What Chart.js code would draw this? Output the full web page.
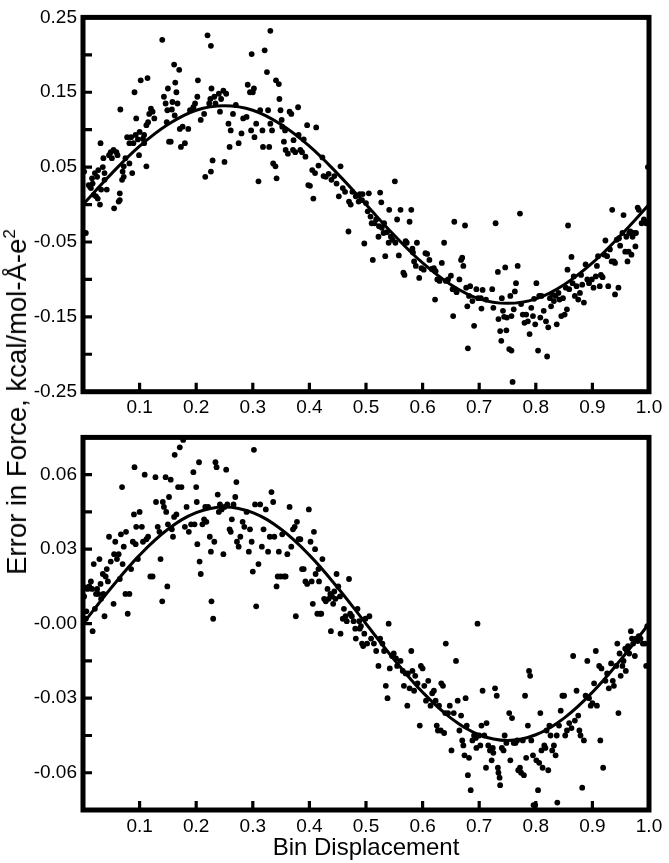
<!DOCTYPE html>
<html>
<head>
<meta charset="utf-8">
<script src="https://cdn.jsdelivr.net/npm/chart.js@4.4.1/dist/chart.umd.min.js"></script>
<style>
  body { margin: 0; background: #fff; }
  #wrap { position: relative; width: 669px; height: 863px; background: #fff; }
  canvas { position: absolute; left: 0; }
  #topChart { top: 0; }
  #botChart { top: 420px; }
  #ytitle {
    position: absolute; left: 17px; top: 402px;
    transform: translate(-50%, -50%) rotate(-90deg);
    white-space: nowrap; font-family: "Liberation Sans", Arial, sans-serif;
    font-size: 27.5px; color: #000;
  }
  #ytitle sup { font-size: 17px; vertical-align: 11px; line-height: 0; }
</style>
</head>
<body>
<div id="wrap">
  <canvas id="topChart" width="669" height="420"></canvas>
  <canvas id="botChart" width="669" height="443"></canvas>
  <div id="ytitle">Error in Force, kcal/mol-&#197;-e<sup>2</sup></div>
</div>
<script>
// x ticks shared by both panels
var xTicks = [0, 0.1, 0.2, 0.3, 0.4, 0.5, 0.6, 0.7, 0.8, 0.9, 1.0];
var xTickLabels = ['', '0.1', '0.2', '0.3', '0.4', '0.5', '0.6', '0.7', '0.8', '0.9', '1.0'];

var topYTicks = [-0.25, -0.20, -0.15, -0.10, -0.05, 0, 0.05, 0.10, 0.15, 0.20, 0.25];
var topYTickLabels = ['-0.25', '', '-0.15', '', '-0.05', '', '0.05', '', '0.15', '', '0.25'];

var botYTicks = [-0.075, -0.06, -0.045, -0.03, -0.015, 0, 0.015, 0.03, 0.045, 0.06, 0.075];
var botYTickLabels = ['', '-0.06', '', '-0.03', '', '-0.00', '', '0.03', '', '0.06', ''];

// fitted curves, every 0.05
var curveX = [0, 0.05, 0.10, 0.15, 0.20, 0.25, 0.30, 0.35, 0.40, 0.45, 0.50,
              0.55, 0.60, 0.65, 0.70, 0.75, 0.80, 0.85, 0.90, 0.95, 1.00];
var topCurveY = [0.000, 0.041, 0.078, 0.107, 0.126, 0.132, 0.126, 0.107, 0.078, 0.041, 0.000,
                 -0.041, -0.078, -0.107, -0.126, -0.132, -0.126, -0.107, -0.078, -0.041, 0.000];
var botCurveY = [0.000, 0.0145, 0.0276, 0.0380, 0.0447, 0.0470, 0.0447, 0.0380, 0.0276, 0.0145, 0.000,
                 -0.0145, -0.0276, -0.0380, -0.0447, -0.0470, -0.0447, -0.0380, -0.0276, -0.0145, 0.000];

// scatter points [x, y], top panel
var topPoints = [
[.002,.044],[.005,-.038],[.010,.026],[.014,.022],[.017,.028],[.021,.042],[.025,.037],[.023,.011],[.026,.008],[.030,.000],[.031,.082],[.032,.020],[.036,.062],[.038,.042],[.042,.020],[.046,.066],[.049,.070],[.038,.033],[.019,.013],[.012,.024],[.016,.035],[.035,.050],[.027,.046],
[.051,.062],[.054,.073],[.055,-.005],[.059,.070],[.063,.004],[.065,.015],[.066,.127],[.069,.033],[.070,.044],[.072,.037],[.075,.062],[.078,.090],[.082,.055],[.085,.090],[.087,.042],[.091,.150],[.093,.093],[.094,.115],[.097,.087],[.099,.066],[.065,.006],[.061,.066],[.072,.051],[.082,.082],[.089,.082],
[.102,.166],[.106,.088],[.108,.082],[.112,.051],[.114,.169],[.115,.110],[.117,.121],[.120,.128],[.123,.124],[.126,.115],[.140,.220],[.143,.144],[.146,.135],[.148,.110],[.150,.155],[.108,.093],[.100,.097],[.112,.106],[.152,.084],[.155,.084],
[.157,.127],[.161,.187],[.163,.163],[.165,.150],[.170,.180],[.167,.135],[.158,.137],[.171,.101],[.176,.104],[.180,.082],[.173,.077],[.186,.101],[.189,.126],[.195,.130],[.198,.135],[.162,.119],[.149,.126],
[.203,.166],[.202,.144],[.208,.113],[.214,.121],[.216,.037],[.220,.226],[.226,.212],[.223,.135],[.225,.141],[.227,.155],[.229,.059],[.226,.044],[.234,.135],[.232,.144],[.240,.148],[.244,.141],[.242,.124],[.250,.057],
[.248,.152],[.253,.148],[.257,.108],[.259,.077],[.261,.099],[.265,.121],[.270,.133],[.275,.082],[.280,.095],[.283,.115],[.289,.117],[.291,.160],[.295,.150],[.298,.201],[.300,.150],[.302,.155],[.297,.099],
[.303,.090],[.306,.108],[.310,.031],[.313,.126],[.317,.099],[.318,.077],[.321,.206],[.325,.177],[.327,.126],[.329,.077],[.331,.232],[.331,.108],[.334,.099],[.336,.055],[.340,.051],[.341,.166],[.342,.035],[.346,.161],[.347,.141],[.349,.126],[.351,.113],
[.352,.104],[.355,.084],[.357,.099],[.358,.073],[.362,.068],[.365,.124],[.368,.121],[.371,.073],[.372,.086],[.375,.070],[.380,.130],[.381,.093],[.384,.073],[.387,.070],[.390,.087],[.393,.064],[.396,.106],
[.398,.026],[.401,.025],[.405,.046],[.407,.008],[.410,.042],[.412,.103],[.416,.052],[.423,.063],[.425,.038],[.429,.037],[.434,.041],[.439,.033],[.444,.038],[.448,.028],[.452,.011],[.455,.051],
[.459,.022],[.463,.017],[.469,-.036],[.470,.004],[.473,.000],[.476,.017],[.482,.011],[.487,.004],[.489,.014],[.493,.006],[.494,.014],[.497,-.052],[.500,.002],[.503,-.009],[.505,.015],
[.508,-.016],[.510,-.025],[.512,-.074],[.515,-.025],[.518,-.020],[.522,-.043],[.523,-.029],[.525,.016],[.527,.003],[.528,-.031],[.531,-.038],[.532,-.025],[.534,-.069],[.537,-.037],[.540,-.051],[.541,-.007],[.544,-.043],[.547,-.047],[.551,.031],[.552,-.051],[.555,-.020],
[.558,-.068],[.561,-.007],[.566,-.091],[.568,-.094],[.570,-.049],[.572,-.051],[.577,-.023],[.580,-.007],[.582,-.059],[.583,-.064],[.585,-.076],[.588,-.082],[.590,-.051],[.594,-.098],[.598,-.085],[.602,-.087],[.605,-.065],
[.608,-.066],[.612,-.074],[.616,-.086],[.620,-.085],[.622,-.127],[.623,-.089],[.626,-.100],[.630,-.102],[.634,-.078],[.638,-.051],[.641,-.102],[.645,-.100],[.650,-.095],[.653,-.113],[.654,-.149],[.656,-.023],[.657,-.113],
[.660,-.117],[.665,-.100],[.668,-.074],[.670,-.071],[.672,-.082],[.675,-.028],[.677,-.111],[.679,-.136],[.680,-.192],[.682,-.122],[.684,-.109],[.688,-.129],[.691,-.162],[.695,-.113],[.698,-.125],[.703,-.125],[.704,-.139],
[.706,-.114],[.712,-.127],[.723,-.113],[.725,-.138],[.729,-.025],[.733,-.090],[.734,-.153],[.737,-.169],[.739,-.182],[.740,-.125],[.742,-.142],[.744,-.150],[.746,-.084],[.748,-.168],[.749,-.151],[.753,-.193],[.755,-.122],[.757,-.195],[.757,-.149],
[.759,-.237],[.761,-.140],[.763,-.116],[.765,-.105],[.768,-.082],[.772,-.012],[.774,-.133],[.777,-.147],[.780,-.158],[.783,-.147],[.786,-.156],[.789,-.173],[.792,-.138],[.795,-.149],[.797,-.126],[.799,-.160],[.801,-.105],[.804,-.195],[.806,-.122],[.808,-.151],
[.810,-.122],[.814,-.142],[.818,-.156],[.820,-.203],[.822,-.164],[.825,-.125],[.827,-.136],[.829,-.120],[.832,-.129],[.835,-.122],[.837,-.160],[.840,-.118],[.842,-.127],[.845,-.149],[.848,-.125],[.851,-.147],[.853,-.111],[.855,-.140],[.857,-.028],[.856,-.087],
[.859,-.113],[.863,-.070],[.865,-.105],[.867,-.096],[.869,-.122],[.872,-.109],[.875,-.127],[.878,-.118],[.880,-.094],[.882,-.107],[.885,-.131],[.888,-.080],[.891,-.100],[.894,-.105],[.899,-.100],[.902,-.111],[.906,-.096],[.908,-.082],
[.910,-.069],[.913,-.109],[.915,-.094],[.918,-.097],[.921,-.067],[.923,-.048],[.926,-.069],[.928,-.109],[.931,-.060],[.934,-.076],[.935,-.007],[.938,-.076],[.940,-.120],[.940,-.078],[.943,-.047],[.946,-.111],[.947,-.045],[.949,-.055],
[.953,-.038],[.955,-.014],[.958,-.063],[.960,-.043],[.962,-.076],[.964,-.063],[.965,-.038],[.967,-.036],[.969,-.067],[.971,-.043],[.973,-.038],[.976,-.056],[.977,-.038],[.980,-.004],[.982,-.007],[.987,-.025],[.991,-.020],[.995,-.025],[.998,.050],[.999,-.023]
];

// scatter points [x, y], bottom panel
var botPoints = [
[.002,.011],[.005,.002],[.006,.005],[.008,.014],[.011,.015],[.014,.017],[.016,.014],[.017,-.003],[.019,.024],[.021,.006],[.023,.012],[.025,.014],[.027,.012],[.029,.026],[.031,.016],[.032,.010],[.035,.020],[.036,.012],[.038,.003],[.040,.019],[.042,.022],[.044,.017],[.046,.035],[.049,.025],
[.054,.008],[.055,.028],[.057,.033],[.060,.026],[.063,.028],[.065,.018],[.067,.036],[.069,.055],[.070,.024],[.072,.031],[.075,.012],[.076,.037],[.079,.004],[.082,.012],[.085,.022],[.088,.033],[.090,.044],[.091,.063],[.093,.032],[.094,.039],[.097,.026],[.100,.045],
[.104,.039],[.106,.033],[.109,.060],[.112,.034],[.115,.035],[.119,.019],[.123,.019],[.128,.059],[.129,.049],[.132,.039],[.135,.037],[.137,.026],[.140,.009],[.141,.049],[.143,.047],[.146,.059],[.147,.045],[.149,.015],[.150,.040],[.152,.051],
[.155,.058],[.157,.038],[.159,.035],[.161,.043],[.162,.068],[.165,.044],[.168,.055],[.171,.071],[.174,.055],[.177,.074],[.180,.039],[.183,.047],[.187,.037],[.191,.040],[.195,.061],[.197,.040],[.200,.055],[.201,.049],
[.202,.032],[.205,.065],[.206,.025],[.208,.020],[.211,.040],[.214,.042],[.216,.047],[.218,.041],[.221,.047],[.224,.035],[.226,.029],[.227,.009],[.230,.002],[.232,.033],[.234,.065],[.236,.063],[.238,.052],[.240,.045],[.242,.048],[.245,.046],[.248,.028],[.250,.047],
[.253,.062],[.255,.048],[.259,.038],[.261,.037],[.263,.042],[.266,.048],[.269,.051],[.271,.057],[.272,.033],[.275,.031],[.278,.035],[.282,.041],[.285,.039],[.289,.045],[.293,.029],[.295,.038],[.298,.033],[.300,.021],[.302,.070],[.304,.048],
[.306,.007],[.310,.024],[.313,.048],[.316,.031],[.319,.038],[.323,.046],[.327,.029],[.330,.035],[.333,.053],[.336,.049],[.338,.035],[.342,.015],[.344,.019],[.346,.029],[.349,.019],[.352,.036],
[.355,.019],[.358,.019],[.361,.028],[.365,.047],[.368,.031],[.371,.038],[.374,.039],[.376,.003],[.378,.041],[.381,.034],[.384,.034],[.387,.022],[.390,.022],[.393,.017],[.396,.016],[.399,.046],
[.402,.033],[.404,.017],[.406,.008],[.408,.037],[.410,.030],[.411,.020],[.414,.004],[.416,.022],[.417,.017],[.419,.004],[.421,.004],[.423,.026],[.426,.010],[.429,.009],[.432,.014],[.434,.010],[.437,.012],[.438,-.003],[.440,.011],[.442,.008],[.444,.013],[.446,.010],[.448,.020],
[.451,.015],[.454,.011],[.455,-.004],[.459,.002],[.461,.006],[.464,.003],[.466,.001],[.470,.018],[.472,.004],[.475,.003],[.478,.001],[.481,-.002],[.482,-.006],[.485,.006],[.488,.001],[.489,-.002],[.491,-.001],[.493,-.008],[.495,-.009],[.497,-.004],[.499,.002],[.502,-.008],
[.506,.003],[.509,-.006],[.514,-.008],[.518,-.011],[.522,-.017],[.525,-.006],[.529,-.008],[.532,-.011],[.535,-.025],[.538,-.030],[.540,.000],[.542,-.018],[.546,-.013],[.549,-.012],[.553,-.014],[.555,-.017],
[.561,-.015],[.565,-.019],[.567,-.025],[.570,-.020],[.573,-.033],[.574,-.020],[.577,-.026],[.580,-.011],[.582,-.019],[.585,-.027],[.587,-.021],[.591,-.024],[.595,-.041],[.597,-.017],[.600,-.018],[.603,-.025],
[.606,-.031],[.610,-.023],[.614,-.033],[.617,-.028],[.620,-.027],[.623,-.031],[.625,-.041],[.627,-.043],[.629,-.033],[.632,-.043],[.633,-.024],[.636,-.025],[.638,-.044],[.640,-.036],[.641,-.008],[.645,-.036],[.648,-.033],[.651,-.051],[.655,-.036],
[.659,-.015],[.662,-.031],[.665,-.043],[.668,-.037],[.670,-.047],[.672,-.049],[.674,-.053],[.676,-.030],[.678,-.041],[.680,-.061],[.682,-.054],[.685,-.067],[.688,-.047],[.691,-.045],[.694,-.046],[.695,-.050],[.697,.000],[.700,-.045],[.702,-.049],[.704,-.041],
[.706,-.027],[.709,-.045],[.712,-.058],[.713,-.040],[.716,-.049],[.719,-.051],[.722,-.055],[.724,-.050],[.725,-.052],[.728,-.026],[.731,-.029],[.733,-.058],[.734,-.060],[.736,-.062],[.737,-.065],[.740,-.050],[.743,-.051],[.745,-.045],[.748,-.048],
[.753,-.036],[.755,-.055],[.758,-.038],[.761,-.048],[.764,-.048],[.767,-.047],[.769,-.059],[.772,-.058],[.774,-.060],[.777,-.047],[.779,-.061],[.781,-.029],[.783,-.054],[.786,-.041],[.788,-.019],[.790,-.021],[.792,-.047],[.795,-.053],[.796,-.073],[.799,-.073],[.801,-.055],[.804,-.067],
[.806,-.056],[.808,-.036],[.810,-.051],[.812,-.058],[.815,-.049],[.817,-.050],[.819,-.043],[.822,-.059],[.824,-.041],[.826,-.045],[.829,-.051],[.832,-.049],[.835,-.053],[.837,-.045],[.838,-.072],[.841,-.041],[.844,-.035],[.847,-.029],[.850,-.029],[.852,-.045],[.855,-.043],
[.859,-.040],[.863,-.042],[.866,-.013],[.869,-.039],[.872,-.027],[.875,-.037],[.877,-.043],[.879,-.045],[.882,-.066],[.885,-.047],[.888,-.029],[.891,-.015],[.894,-.030],[.897,-.033],[.900,-.032],[.903,-.024],[.906,-.011],[.908,-.033],
[.912,-.017],[.914,-.047],[.916,-.018],[.919,-.058],[.923,-.023],[.926,-.020],[.929,-.026],[.933,-.016],[.936,-.023],[.938,-.025],[.942,-.017],[.944,-.008],[.946,-.036],[.948,-.012],[.950,-.021],
[.953,-.017],[.955,-.015],[.958,-.010],[.959,-.019],[.961,-.011],[.963,-.009],[.965,-.012],[.968,-.003],[.970,-.006],[.972,-.008],[.975,-.013],[.977,-.006],[.980,-.007],[.982,-.005],[.985,-.006],[.989,-.008],[.993,-.008],[.995,-.017],[.997,-.001]
];

var FONT = '"Liberation Sans", Arial, sans-serif';

/**
* Draw the thick box round the plot and the short inward tick marks.
*/
var framePlugin = {
    id: 'frame',
    afterDatasetsDraw: function(chart) {
        var ctx = chart.ctx;
        var a = chart.chartArea;
        var xs = chart.scales.x;
        var ys = chart.scales.y;
        ctx.save();
        ctx.strokeStyle = '#000';
        ctx.lineWidth = 3.2;
        ctx.beginPath();
        xs.ticks.forEach(function(t) {
            var px = xs.getPixelForValue(t.value);
            ctx.moveTo(px, a.bottom);
            ctx.lineTo(px, a.bottom - 9);
        });
        ys.ticks.forEach(function(t) {
            var py = ys.getPixelForValue(t.value);
            ctx.moveTo(a.left, py);
            ctx.lineTo(a.left + 9, py);
        });
        ctx.stroke();
        ctx.lineWidth = 5;
        ctx.strokeRect(a.left, a.top, a.right - a.left, a.bottom - a.top);
        ctx.restore();
    }
};

function toXY(pairs) {
    return pairs.map(function(p) { return {x: p[0], y: p[1]}; });
}

function curveData(ys) {
    return curveX.map(function(x, i) { return {x: x, y: ys[i]}; });
}

function makePanel(canvasId, points, curveY, yMin, yMax, yTicks, yLabels, xAxisHeight, showXTitle) {
    return new Chart(document.getElementById(canvasId), {
        type: 'scatter',
        data: {
            datasets: [
                {
                    data: toXY(points),
                    pointRadius: 2.9,
                    pointBackgroundColor: '#000',
                    pointBorderWidth: 0,
                    borderColor: '#000'
                },
                {
                    data: curveData(curveY),
                    showLine: true,
                    pointRadius: 0,
                    borderColor: '#000',
                    borderWidth: 3,
                    tension: 0.4,
                    fill: false
                }
            ]
        },
        options: {
            responsive: false,
            animation: false,
            layout: { padding: { top: 13.5, right: 20, left: 0, bottom: 0 } },
            plugins: { legend: { display: false }, tooltip: { enabled: false } },
            scales: {
                x: {
                    type: 'linear',
                    min: 0,
                    max: 1,
                    grid: { display: false, drawTicks: false },
                    border: { display: false },
                    afterBuildTicks: function(scale) {
                        scale.ticks = xTicks.map(function(v) { return {value: v}; });
                    },
                    afterFit: function(scale) { scale.height = xAxisHeight; },
                    ticks: {
                        autoSkip: false,
                        maxRotation: 0,
                        padding: 5,
                        color: '#000',
                        font: { family: FONT, size: 19 },
                        callback: function(v, i) { return xTickLabels[i]; }
                    },
                    title: {
                        display: showXTitle,
                        text: 'Bin Displacement',
                        color: '#000',
                        font: { family: FONT, size: 24 },
                        padding: { top: 0, bottom: 0 }
                    }
                },
                y: {
                    type: 'linear',
                    min: yMin,
                    max: yMax,
                    grid: { display: false, drawTicks: false },
                    border: { display: false },
                    afterBuildTicks: function(scale) {
                        scale.ticks = yTicks.map(function(v) { return {value: v}; });
                    },
                    afterFit: function(scale) { scale.width = 83; },
                    ticks: {
                        autoSkip: false,
                        padding: 6,
                        color: '#000',
                        font: { family: FONT, size: 19 },
                        callback: function(v, i) { return yLabels[i]; }
                    }
                }
            }
        },
        plugins: [framePlugin]
    });
}

makePanel('topChart', topPoints, topCurveY, -0.25, 0.25, topYTicks, topYTickLabels, 28.3, false);
makePanel('botChart', botPoints, botCurveY, -0.075, 0.075, botYTicks, botYTickLabels, 53, true);
</script>
</body>
</html>
